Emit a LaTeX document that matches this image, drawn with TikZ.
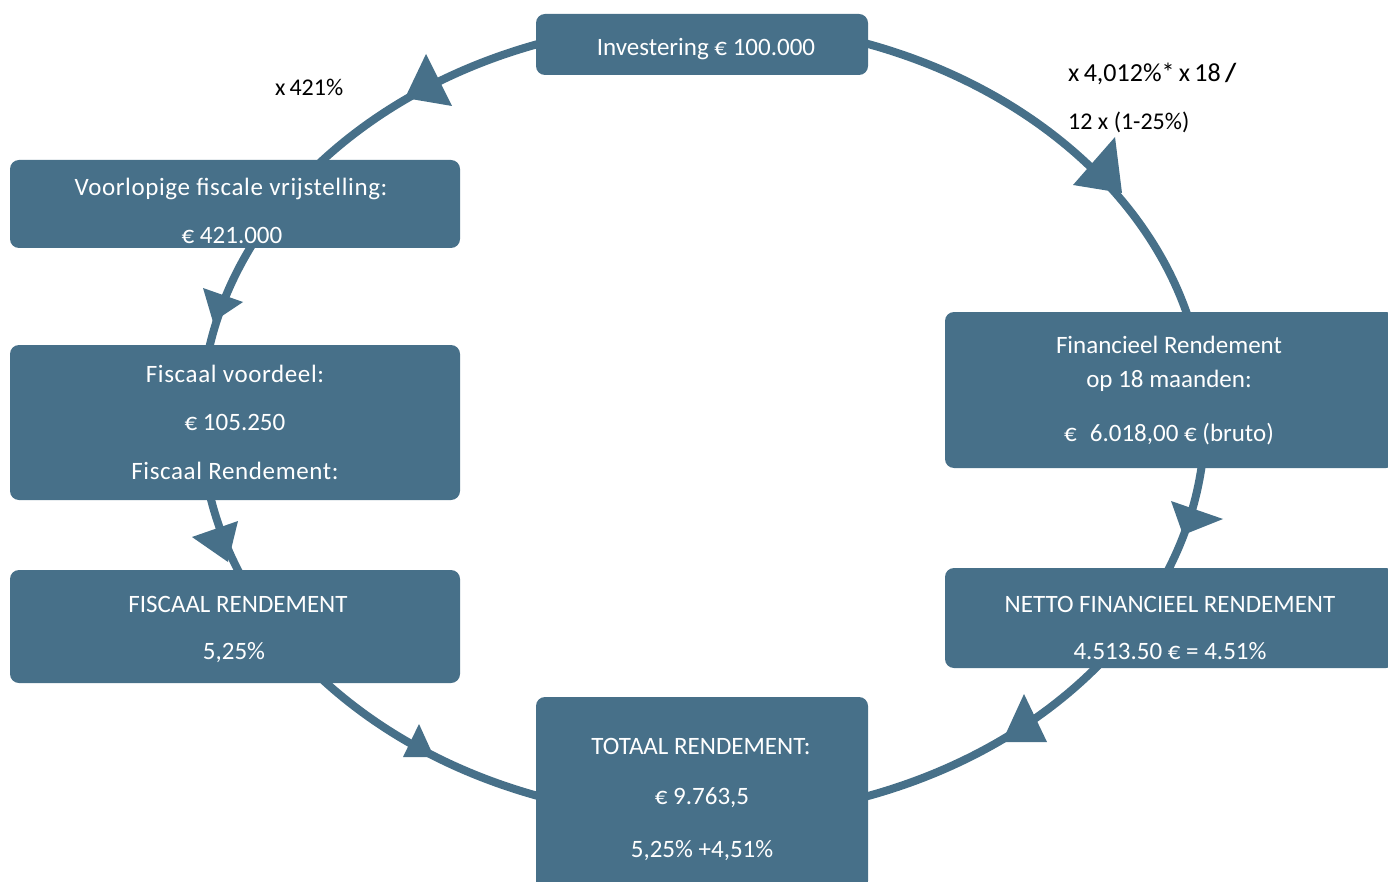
\documentclass[tikz,border=0pt]{standalone}
\usepackage{fontspec}
\setmainfont{Carlito}
\newfontfamily\widefont[LetterSpace=2.5]{Carlito}
\definecolor{cyc}{RGB}{71,112,137}
\begin{document}
\begin{tikzpicture}[x=1pt,y=-1pt,
  box/.style={fill=cyc, rounded corners=9pt, inner sep=0pt},
  txt/.style={text=white, font=\fontsize{25}{29}\selectfont, anchor=base, inner sep=0pt},
  wtxt/.style={txt, font=\fontsize{25}{29}\selectfont\widefont},
  lbl/.style={text=black, anchor=base west, inner sep=0pt},
  head/.style={fill=cyc}]
\useasboundingbox (0,0) rectangle (1388,882);
% cycle line
\draw[cyc, line width=8pt] (703,420) ellipse [x radius=502, y radius=398];
% arrow heads
\fill[head] (426,54) -- (405,98) -- (452,106) -- cycle;
\fill[head] (1115,137) -- (1073,185) -- (1122,193) -- cycle;
\fill[head] (1171,501) -- (1223,519) -- (1183,535) -- cycle;
\fill[head] (1024,694) -- (1002,742) -- (1047,742) -- cycle;
\fill[head] (419,724) -- (403,757) -- (434,757) -- cycle;
\fill[head] (192,537) -- (238,521) -- (228,562) -- cycle;
\fill[head] (203,288) -- (243,302) -- (213,322) -- cycle;
% boxes
\node[box, minimum width=332pt, minimum height=61pt] (inv) at (702,44.5) {};
\node[box, minimum width=450pt, minimum height=88pt] (vrij) at (235,204) {};
\node[box, minimum width=450pt, minimum height=155pt] (voord) at (235,422.5) {};
\node[box, minimum width=450pt, minimum height=113pt] (fisc) at (235,626.5) {};
\node[box, minimum width=450pt, minimum height=156pt] (fin) at (1170,390) {};
\node[box, minimum width=450pt, minimum height=100pt] (netto) at (1170,618) {};
\node[box, minimum width=332pt, minimum height=193pt] (tot) at (702,793.5) {};
% texts
\node[txt] (t1) at (706,56) {Investering € 100.000};
\node[wtxt] (t2) at (231,196) {Voorlopige fiscale vrijstelling:};
\node[txt] (t3) at (232,244) {€ 421.000};
\node[wtxt] (t4) at (235,382) {Fiscaal voordeel:};
\node[txt] (t5) at (235,430) {€ 105.250};
\node[wtxt] (t6) at (235,479) {Fiscaal Rendement:};
\node[txt] (t7) at (238,612) {FISCAAL RENDEMENT};
\node[txt] (t8) at (234,659) {5,25\%};
\node[txt] (t9) at (1169,353) {Financieel Rendement};
\node[txt] (t10) at (1169,387) {op 18 maanden:};
\node[txt] (t11) at (1169,441) {€\hspace{13pt}6.018,00 € (bruto)};
\node[txt] (t12) at (1170,612) {NETTO FINANCIEEL RENDEMENT};
\node[txt] (t13) at (1170,659) {4.513.50 € = 4.51\%};
\node[txt] (t14) at (701,754) {TOTAAL RENDEMENT:};
\node[txt] (t15) at (702,804) {€ 9.763,5};
\node[txt] (t16) at (702,857) {5,25\% +4,51\%};
% labels
\node[lbl, font=\fontsize{24}{28}\selectfont] (l1) at (275,96) {x\,421\%};
\node[lbl, font=\fontsize{26}{30}\selectfont] (l2) at (1068,82) {x\,4,012\%*\,x\,18\,\textbf{/}};
\node[lbl, font=\fontsize{24}{28}\selectfont] (l3) at (1068,130) {12 x (1-25\%)};
\end{tikzpicture}
\end{document}
